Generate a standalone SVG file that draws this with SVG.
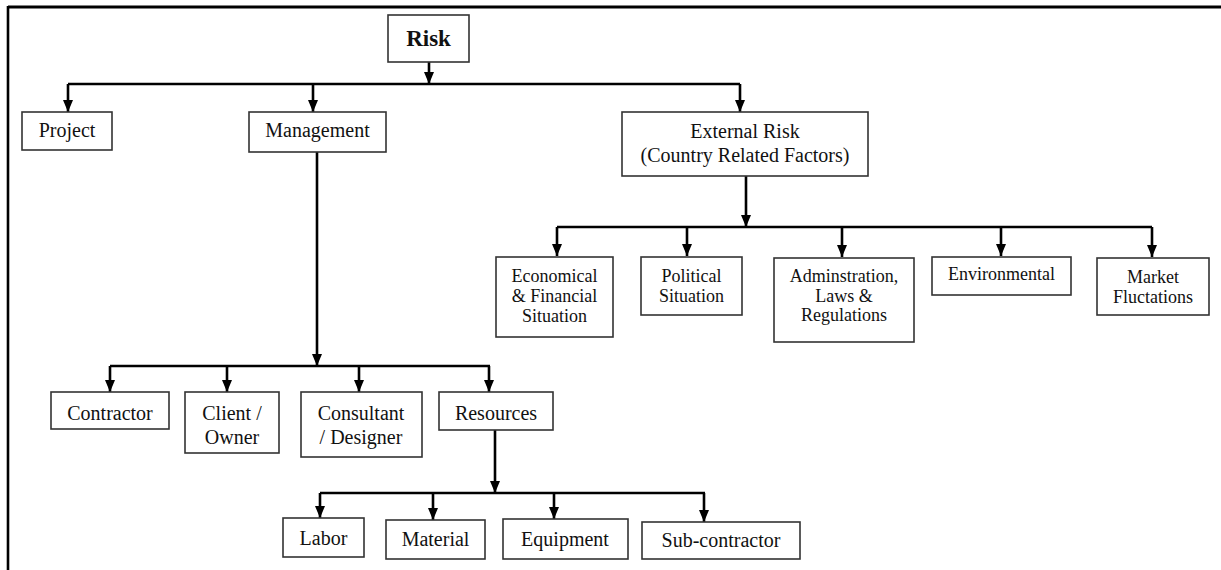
<svg xmlns="http://www.w3.org/2000/svg" width="1221" height="570" viewBox="0 0 1221 570">
<style>
.box{fill:#fff;stroke:#333;stroke-width:1.6}
.t{font-family:"Liberation Serif","Times New Roman",serif;font-size:20px;fill:#111;text-anchor:middle}
.s{font-size:18px}
.b{font-weight:bold;font-size:23px}
.c{fill:none;stroke:#000;stroke-width:2.6}
.frame{stroke:#000;fill:none}
</style>
<defs>
<marker id="ah" viewBox="0 0 12 10" refX="12" refY="5" markerWidth="12" markerHeight="10" markerUnits="userSpaceOnUse" orient="auto">
<path d="M0,0 L12,5 L0,10 z" fill="#000"/>
</marker>
</defs>
<rect width="1221" height="570" fill="#fff"/>
<g id="frame">
<line class="frame" x1="8" y1="7" x2="1221" y2="7" stroke-width="3"/>
<line class="frame" x1="8" y1="6" x2="8" y2="570" stroke-width="2.6"/>
</g>
<g id="connectors">
<path class="c" d="M429,62 V84" marker-end="url(#ah)"/>
<path class="c" d="M68,84 H740"/>
<path class="c" d="M68,84 V112" marker-end="url(#ah)"/>
<path class="c" d="M313,84 V112" marker-end="url(#ah)"/>
<path class="c" d="M740,84 V112" marker-end="url(#ah)"/>
<path class="c" d="M317,152 V366" marker-end="url(#ah)"/>
<path class="c" d="M110,366 H490"/>
<path class="c" d="M110,366 V392" marker-end="url(#ah)"/>
<path class="c" d="M227,366 V392" marker-end="url(#ah)"/>
<path class="c" d="M359,366 V392" marker-end="url(#ah)"/>
<path class="c" d="M489,366 V392" marker-end="url(#ah)"/>
<path class="c" d="M746,176 V227" marker-end="url(#ah)"/>
<path class="c" d="M557,227 H1152"/>
<path class="c" d="M557,227 V256" marker-end="url(#ah)"/>
<path class="c" d="M687,227 V256" marker-end="url(#ah)"/>
<path class="c" d="M842,227 V257" marker-end="url(#ah)"/>
<path class="c" d="M1001,227 V256" marker-end="url(#ah)"/>
<path class="c" d="M1152,227 V257" marker-end="url(#ah)"/>
<path class="c" d="M495,430 V493" marker-end="url(#ah)"/>
<path class="c" d="M320,493 H705"/>
<path class="c" d="M320,493 V518" marker-end="url(#ah)"/>
<path class="c" d="M433,493 V520" marker-end="url(#ah)"/>
<path class="c" d="M554,493 V519" marker-end="url(#ah)"/>
<path class="c" d="M704,493 V522" marker-end="url(#ah)"/>
</g>
<g id="risk"><rect class="box" x="388" y="15" width="81" height="47"/><text class="t b" x="428.5" y="46">Risk</text></g>
<g id="project"><rect class="box" x="22" y="112" width="90" height="38"/><text class="t" x="67" y="137">Project</text></g>
<g id="management"><rect class="box" x="249" y="112" width="137" height="40"/><text class="t" x="317.5" y="137">Management</text></g>
<g id="external"><rect class="box" x="622" y="112" width="246" height="64"/><text class="t" x="745" y="138">External Risk</text><text class="t" x="745" y="162">(Country Related Factors)</text></g>
<g id="economical"><rect class="box" x="496" y="257" width="117" height="80"/><text class="t s" x="554.5" y="282">Economical</text><text class="t s" x="554.5" y="302">&amp; Financial</text><text class="t s" x="554.5" y="322">Situation</text></g>
<g id="political"><rect class="box" x="641" y="257" width="101" height="58"/><text class="t s" x="691.5" y="282">Political</text><text class="t s" x="691.5" y="302">Situation</text></g>
<g id="adminstration"><rect class="box" x="774" y="258" width="140" height="84"/><text class="t s" x="844" y="282">Adminstration,</text><text class="t s" x="844" y="302">Laws &amp;</text><text class="t s" x="844" y="321">Regulations</text></g>
<g id="environmental"><rect class="box" x="932" y="257" width="139" height="38"/><text class="t s" x="1001.5" y="280">Environmental</text></g>
<g id="market"><rect class="box" x="1097" y="258" width="112" height="57"/><text class="t s" x="1153" y="283">Market</text><text class="t s" x="1153" y="303">Fluctations</text></g>
<g id="contractor"><rect class="box" x="51" y="392" width="118" height="37"/><text class="t" x="110" y="420">Contractor</text></g>
<g id="client"><rect class="box" x="185" y="392" width="94" height="61"/><text class="t" x="232" y="420">Client /</text><text class="t" x="232" y="444">Owner</text></g>
<g id="consultant"><rect class="box" x="301" y="392" width="121" height="65"/><text class="t" x="361" y="420">Consultant</text><text class="t" x="361" y="444">/ Designer</text></g>
<g id="resources"><rect class="box" x="439" y="392" width="114" height="38"/><text class="t" x="496" y="420">Resources</text></g>
<g id="labor"><rect class="box" x="283" y="518" width="81" height="39"/><text class="t" x="323.5" y="545">Labor</text></g>
<g id="material"><rect class="box" x="386" y="520" width="99" height="39"/><text class="t" x="435.5" y="546">Material</text></g>
<g id="equipment"><rect class="box" x="503" y="519" width="125" height="40"/><text class="t" x="565" y="546">Equipment</text></g>
<g id="subcontractor"><rect class="box" x="642" y="522" width="158" height="37"/><text class="t" x="721" y="547">Sub-contractor</text></g>
</svg>
